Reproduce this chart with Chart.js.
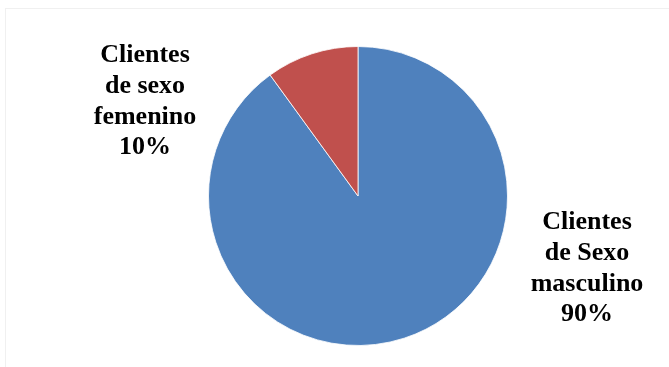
<!DOCTYPE html>
<html>
<head>
<meta charset="utf-8">
<script src="https://cdn.jsdelivr.net/npm/chart.js@4.4.0/dist/chart.umd.min.js"></script>
<style>
html, body { margin: 0; padding: 0; background: #fff; }
#wrap { position: relative; width: 669px; height: 367px; overflow: hidden; }
#frame { position: absolute; left: 5px; top: 8px; width: 700px; height: 400px; border: 1px solid #f0f0f0; }
#chart { position: absolute; left: 0; top: 0; }
</style>
</head>
<body>
<div id="wrap">
  <div id="frame"></div>
  <canvas id="chart" width="669" height="367"></canvas>
</div>
<script>
// Data
const categories = ['Clientes de Sexo masculino', 'Clientes de sexo femenino'];
const values = [90, 10];
const colors = ['#4F81BD', '#C0504D'];
const labelLines = [
    ['Clientes', 'de Sexo', 'masculino', '90%'],
    ['Clientes', 'de sexo', 'femenino', '10%']
];

// label blocks: centre x and first baseline
const labelSpots = [
    { x: 587, y: 229 },
    { x: 145, y: 62 }
];

const pieLabels = {
    id: 'pieLabels',
    afterDraw(chart) {
        const ctx = chart.ctx;
        ctx.save();
        ctx.fillStyle = '#000';
        ctx.font = "bold 26px 'Liberation Serif', 'Times New Roman', serif";
        ctx.textAlign = 'center';
        ctx.textBaseline = 'alphabetic';
        labelLines.forEach(function(lines, i) {
            const spot = labelSpots[i];
            lines.forEach(function(line, j) {
                ctx.fillText(line, spot.x, spot.y + j * 30.8);
            });
        });
        ctx.restore();
    }
};

new Chart(document.getElementById('chart'), {
    type: 'pie',
    data: {
        labels: categories,
        datasets: [{
            data: values,
            backgroundColor: colors,
            borderColor: 'rgba(255,255,255,0.8)',
            borderWidth: 1
        }]
    },
    options: {
        responsive: false,
        animation: false,
        layout: {
            padding: { left: 208, right: 161, top: 46, bottom: 21 }
        },
        plugins: {
            legend: { display: false },
            tooltip: { enabled: false }
        }
    },
    plugins: [pieLabels]
});
</script>
</body>
</html>
